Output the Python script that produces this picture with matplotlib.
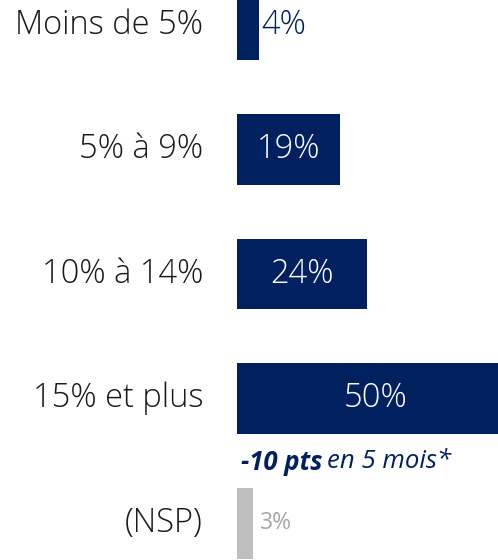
import matplotlib
matplotlib.use("Agg")
import matplotlib.pyplot as plt

categories = ["Moins de 5%", "5% à 9%", "10% à 14%", "15% et plus", "(NSP)"]
values = [4, 19, 24, 50, 3]
labels = ["4%", "19%", "24%", "50%", "3%"]

navy = "#002060"
grey_bar = "#BFBFBF"
grey_txt = "#A6A6A6"
colors = [navy, navy, navy, navy, grey_bar]

plt.rcParams['font.family'] = ['Open Sans', 'DejaVu Sans']

fig = plt.figure(figsize=(4.98, 5.6), dpi=100)
ax = fig.add_axes([237/498, 0, 1 - 237/498, 1])
ypos = list(range(len(categories)))
ax.barh(ypos, values, height=0.57, color=colors)
xmax = 261/5.4
ax.set_xlim(0, xmax)
ax.set_ylim(4.297, -0.2008)
ax.axis('off')

for i, (v, lab) in enumerate(zip(values, labels)):
    fig_y = 1 - (25 + 124.5 * i) / 560
    fig.text(203/498, fig_y, categories[i], ha='right', va='center',
             fontsize=23.5, color='#1a1a1a', fontweight='light')
    if i == 0:
        ax.text(v + 0.5, i, lab, ha='left', va='center', fontsize=23.5,
                color=navy, fontweight='light')
    elif i == 4:
        ax.text(v + 1.3, i, lab, ha='left', va='center', fontsize=16.5,
                color=grey_txt)
    else:
        xc = v / 2 if i != 3 else xmax * 0.53
        ax.text(xc, i, lab, ha='center', va='center', fontsize=23.5,
                color='white', fontweight='light')

ann_y = 1 - 462 / 560
t1 = fig.text(241/498, ann_y, "-10 pts", ha='left', va='center', fontsize=18.5,
              color=navy, fontstyle='italic', fontweight='bold')
fig.canvas.draw()
bb = t1.get_window_extent()
fig.text((bb.x1 + 5) / 498, ann_y, "en 5 mois*", ha='left', va='center',
         fontsize=18.5, color=navy, fontstyle='italic')

fig.savefig("out.png", dpi=100)
